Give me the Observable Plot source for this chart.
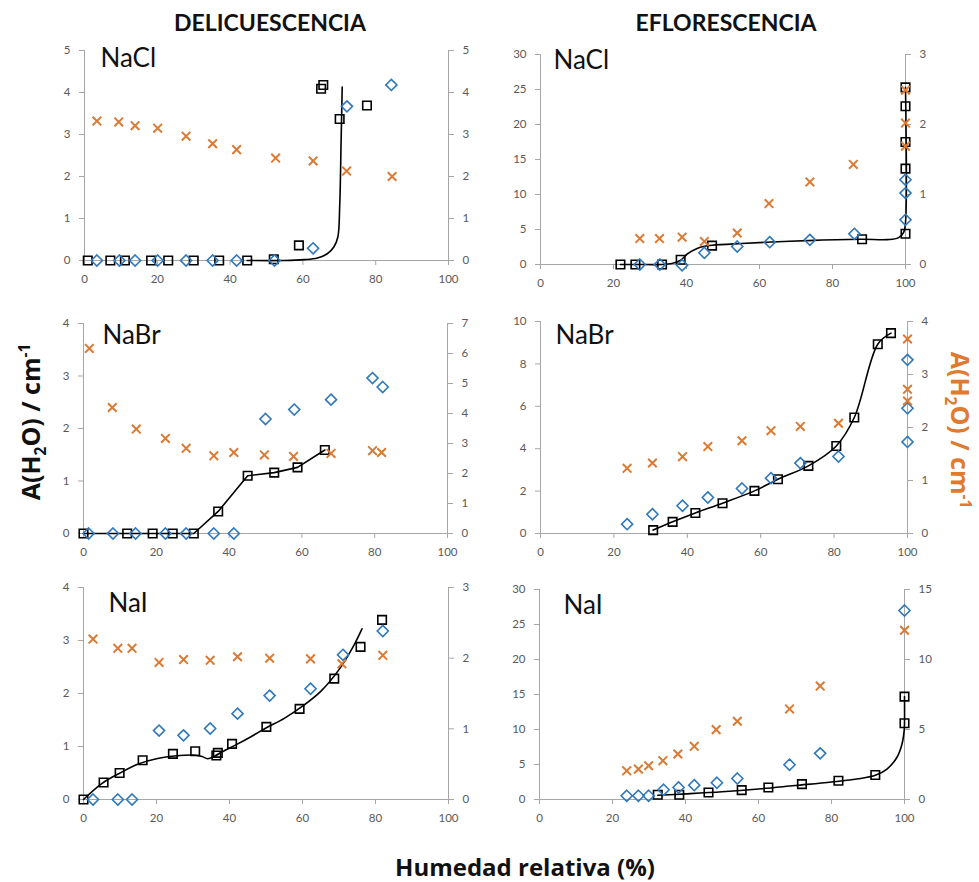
<!DOCTYPE html>
<html><head><meta charset="utf-8">
<script src="https://cdn.jsdelivr.net/npm/d3@7"></script>
<script src="https://cdn.jsdelivr.net/npm/@observablehq/plot@0.6"></script>
<style>
body{margin:0;background:#fff;}
#wrap{position:relative;width:979px;height:882px;overflow:hidden;font-family:Lato,"Open Sans",sans-serif;background:#fff;}
.ttl{position:absolute;font-weight:700;font-size:23px;color:#111;transform:translate(-50%,-50%);white-space:nowrap;}
.xlab{position:absolute;font-family:"Open Sans",sans-serif;font-weight:700;font-size:24px;color:#111;transform:translate(-50%,-50%);white-space:nowrap;}
.pnl{position:absolute;}
.vlab{position:absolute;font-family:"Open Sans",sans-serif;font-weight:700;font-size:25px;white-space:nowrap;line-height:1;}
sub,sup{font-size:0.62em;line-height:0;}
</style></head>
<body><div id="wrap"></div>
<script>
// ---------- data (x = humedad relativa %, y = A(H2O)/cm-1) ----------
const xTicks = [0, 20, 40, 60, 80, 100];
const columnTitles = ["DELICUESCENCIA", "EFLORESCENCIA"];
const saltNames = ["NaCl", "NaBr", "NaI"];

// DELICUESCENCIA NaCl
const deliNaClBlack = [[0.9,0],[7.1,0],[11.1,0],[18.3,0],[23,0],[30,0],[37,0],[44.7,0],[52,0.03],[58.9,0.36],[65,4.09],[65.6,4.18],[70.1,3.37],[77.6,3.69]];
const deliNaClBlue = [[3.4,0],[9.6,0],[13.9,0],[20.1,0],[27.9,0],[35.2,0],[41.8,0],[52.2,0],[62.8,0.29],[72.1,3.67],[84.3,4.18]];
const deliNaClOrange = [[3.4,3.32],[9.4,3.30],[13.9,3.21],[20.1,3.15],[27.9,2.96],[35.2,2.78],[41.8,2.64],[52.5,2.44],[62.8,2.37],[72,2.13],[84.5,2.0]];
const deliNaClFit = [[44.7,0],[54.8,0],[60.3,0.02],[64,0.06],[66.7,0.16],[68.5,0.32],[69.6,0.56],[70.1,1.27],[70.5,2.86],[70.8,4.13]];

// EFLORESCENCIA NaCl
const efloNaClBlack = [[21.9,0],[26,0],[33.3,0],[38.4,0.67],[47,2.7],[88.1,3.6],[100,4.4],[100,13.7],[100,17.5],[100,22.6],[100,25.3]];
const efloNaClBlue = [[27.2,0],[32.7,0],[38.8,-0.1],[44.9,1.67],[53.9,2.57],[62.8,3.19],[73.8,3.52],[86,4.38],[100,6.38],[100,10.2],[100,12.1]];
const efloNaClOrange = [[27.2,0.37],[32.6,0.37],[38.8,0.39],[44.9,0.33],[53.9,0.45],[62.6,0.87],[73.8,1.18],[85.7,1.43],[100,1.69],[100,2.02],[100,2.49]];
const efloNaClFit = [[21.9,0],[26,0],[33.3,0],[36,0.15],[38.4,0.6],[40.2,1.5],[42.9,2.3],[44.9,2.6],[47,2.75],[55,3.0],[65,3.25],[75,3.45],[88,3.6],[95,3.55],[98,3.8],[99.5,4.6],[100,6],[100,25.3]];

// DELICUESCENCIA NaBr
const deliNaBrBlack = [[0,0],[12,0],[19,0],[24.5,0],[30.3,0],[37,0.42],[45.1,1.10],[52.4,1.16],[58.8,1.26],[66.3,1.59]];
const deliNaBrBlue = [[1.4,0],[8.1,0],[14.3,0],[22.5,0],[28.2,0],[35.8,0],[41.3,0],[50,2.18],[57.9,2.36],[68,2.55],[79.4,2.96],[82.2,2.79]];
const deliNaBrOrange = [[1.6,6.17],[7.9,4.2],[14.5,3.48],[22.5,3.17],[28.2,2.84],[35.8,2.59],[41.3,2.7],[49.7,2.62],[57.7,2.57],[68,2.67],[79.4,2.76],[81.9,2.7]];

// EFLORESCENCIA NaBr
const efloNaBrBlack = [[30.7,0.16],[36,0.55],[42.2,0.97],[49.6,1.43],[58.3,2.01],[64.7,2.56],[73,3.19],[80.6,4.13],[85.5,5.47],[91.9,8.93],[95.5,9.45]];
const efloNaBrBlue = [[23.6,0.44],[30.5,0.91],[38.7,1.31],[45.6,1.70],[54.9,2.12],[62.8,2.61],[70.8,3.32],[81.2,3.63],[100,4.32],[100,5.91],[100,8.19]];
const efloNaBrOrange = [[23.6,1.23],[30.5,1.33],[38.7,1.45],[45.6,1.64],[54.9,1.75],[62.8,1.94],[70.8,2.02],[81.2,2.08],[100,2.50],[100,2.72],[100,3.67]];

// DELICUESCENCIA NaI
const deliNaIBlack = [[0,0],[5.5,0.32],[9.9,0.50],[16.2,0.74],[24.5,0.86],[30.6,0.91],[36.4,0.83],[36.8,0.88],[40.7,1.05],[50.1,1.37],[59.2,1.71],[68.7,2.28],[75.9,2.88],[81.8,3.39]];
const deliNaIBlue = [[2.6,0],[9.4,0],[13.3,0],[20.7,1.30],[27.4,1.21],[34.7,1.34],[42.2,1.62],[51,1.96],[62.2,2.09],[71.1,2.73],[82,3.18]];
const deliNaIOrange = [[2.6,2.27],[9.4,2.14],[13.3,2.14],[20.7,1.94],[27.4,1.98],[34.7,1.97],[42.2,2.02],[51,2.0],[62.2,1.99],[70.8,1.92],[82,2.04]];
const deliNaIFit = [[0,0],[5,0.3],[10,0.5],[15,0.67],[20,0.77],[25,0.82],[30,0.84],[32.5,0.81],[34,0.77],[36,0.82],[38,0.9],[42,1.04],[46,1.19],[50,1.35],[55,1.53],[60,1.76],[65,2.04],[70,2.45],[74,2.9],[76.3,3.22]];

// EFLORESCENCIA NaI
const efloNaIBlack = [[32.4,0.67],[38.3,0.67],[46.3,1.0],[55.4,1.34],[62.7,1.72],[71.9,2.2],[81.9,2.68],[92,3.49],[100,10.9],[100,14.7]];
const efloNaIBlue = [[23.9,0.53],[27.1,0.53],[29.9,0.53],[34,1.39],[38.1,1.72],[42.4,2.05],[48.6,2.39],[54.2,3.0],[68.5,4.97],[76.9,6.59],[100,27.0]];
const efloNaIOrange = [[23.9,2.05],[27.1,2.17],[29.9,2.41],[33.8,2.77],[37.9,3.25],[42.4,3.80],[48.4,4.99],[54.2,5.59],[68.5,6.47],[76.9,8.10],[100,12.09]];
const efloNaIFit = [[32.4,0.6],[40,0.8],[50,1.1],[60,1.5],[70,2.0],[80,2.5],[88,3.0],[92,3.45],[95.2,4.35],[97.9,6.0],[99.3,7.9],[99.9,9.8],[100,10.9],[100,14.7]];

// ---------- panels ----------
const BLUE = "#2F78BC", ORANGE = "#DC7A33", AXIS = "#A6A6A6", TICKTXT = "#595959";
const panels = [
  {name:saltNames[0], l:84,  r:448, t:50,  b:260, yMax:5,  yStep:1, rMax:5,  rStep:1, black:deliNaClBlack, blue:deliNaClBlue, orange:deliNaClOrange, fit:deliNaClFit, curve:"catmull-rom", dx:16, dy:-2},
  {name:saltNames[0], l:540, r:905, t:54,  b:264, yMax:30, yStep:5, rMax:3,  rStep:1, black:efloNaClBlack, blue:efloNaClBlue, orange:efloNaClOrange, fit:efloNaClFit, curve:"catmull-rom", dx:13, dy:-4},
  {name:saltNames[1], l:83,  r:447, t:323, b:533, yMax:4,  yStep:1, rMax:7,  rStep:1, black:deliNaBrBlack, blue:deliNaBrBlue, orange:deliNaBrOrange, fit:deliNaBrBlack, curve:"linear", dx:19, dy:2},
  {name:saltNames[1], l:540, r:907, t:321, b:533, yMax:10, yStep:2, rMax:4,  rStep:1, black:efloNaBrBlack, blue:efloNaBrBlue, orange:efloNaBrOrange, fit:efloNaBrBlack, curve:"catmull-rom", dx:15, dy:4},
  {name:saltNames[2], l:83,  r:448, t:587, b:799, yMax:4,  yStep:1, rMax:3,  rStep:1, black:deliNaIBlack, blue:deliNaIBlue, orange:deliNaIOrange, fit:deliNaIFit, curve:"catmull-rom", dx:25, dy:6},
  {name:saltNames[2], l:539, r:904, t:589, b:799, yMax:30, yStep:5, rMax:15, rStep:5, black:efloNaIBlack, blue:efloNaIBlue, orange:efloNaIOrange, fit:efloNaIFit, curve:"catmull-rom", dx:24, dy:6}
];

const wrap = document.getElementById("wrap");
const ML = 40, MR = 40, MT = 12, MB = 32;
const fx = d => d[0], fy = d => d[1];
const fmt = v => String(Math.round(v * 1000) / 1000);

for (const p of panels) {
  const w = p.r - p.l, h = p.b - p.t;
  const k = p.yMax / p.rMax;
  const leftTicks = d3.range(0, p.yMax + 1e-9, p.yStep);
  const rightTicks = d3.range(0, p.rMax + 1e-9, p.rStep).map(v => v * k);
  const svg = Plot.plot({
    width: w + ML + MR, height: h + MT + MB,
    marginLeft: ML, marginRight: MR, marginTop: MT, marginBottom: MB,
    x: {domain: [0, 100]},
    y: {domain: [0, p.yMax]},
    style: {fontFamily: "Lato, 'Open Sans', sans-serif", fontSize: "11.5px", color: TICKTXT, background: "transparent", overflow: "visible"},
    marks: [
      Plot.ruleX([0, 100], {stroke: AXIS, strokeWidth: 1}),
      Plot.ruleY([0], {stroke: AXIS, strokeWidth: 1}),
      Plot.axisX(xTicks, {tickSize: 5, tickPadding: 9, stroke: AXIS, fill: TICKTXT, label: null, tickFormat: fmt}),
      Plot.axisY(leftTicks, {anchor: "left", tickSize: 5, tickPadding: 9, stroke: AXIS, fill: TICKTXT, label: null, tickFormat: fmt}),
      Plot.axisY(rightTicks, {anchor: "right", tickSize: 5, tickPadding: 9, stroke: AXIS, fill: TICKTXT, label: null,
        tickFormat: d => fmt(d / k)}),
      Plot.line(p.fit, {x: fx, y: fy, curve: p.curve, stroke: "#000", strokeWidth: 1.6}),
      Plot.dot(p.black, {x: fx, y: fy, symbol: "square", r: 4.8, stroke: "#000", strokeWidth: 1.6, fill: "none"}),
      Plot.dot(p.blue, {x: fx, y: fy, symbol: "diamond2", r: 5, stroke: BLUE, strokeWidth: 1.6, fill: "none"}),
      Plot.dot(p.orange, {x: fx, y: d => d[1] * k, symbol: "times", r: 4, stroke: ORANGE, strokeWidth: 2}),
      Plot.text([p.name], {frameAnchor: "top-left", dx: p.dx, dy: p.dy, fontSize: 26, fill: "#111", fontFamily: "Lato, 'Open Sans', sans-serif"})
    ]
  });
  const box = document.createElement("div");
  box.className = "pnl";
  box.style.left = (p.l - ML) + "px";
  box.style.top = (p.t - MT) + "px";
  box.appendChild(svg);
  wrap.appendChild(box);
}

// ---------- titles and axis labels ----------
function addDiv(cls, html, x, y, extra) {
  const d = document.createElement("div");
  d.className = cls;
  d.innerHTML = html;
  d.style.left = x + "px";
  d.style.top = y + "px";
  if (extra) Object.assign(d.style, extra);
  wrap.appendChild(d);
  return d;
}
addDiv("ttl", columnTitles[0], 270, 22);
addDiv("ttl", columnTitles[1], 726, 22);
addDiv("xlab", "Humedad relativa (%)", 525, 866);
const yl = "A(H<sub>2</sub>O) / cm<sup>-1</sup>";
addDiv("vlab", yl, 30, 422, {color: "#111", transform: "translate(-50%,-50%) rotate(-90deg)"});
addDiv("vlab", yl, 960, 430, {color: "#E07A2E", transform: "translate(-50%,-50%) rotate(90deg)"});
</script>
</body></html>
